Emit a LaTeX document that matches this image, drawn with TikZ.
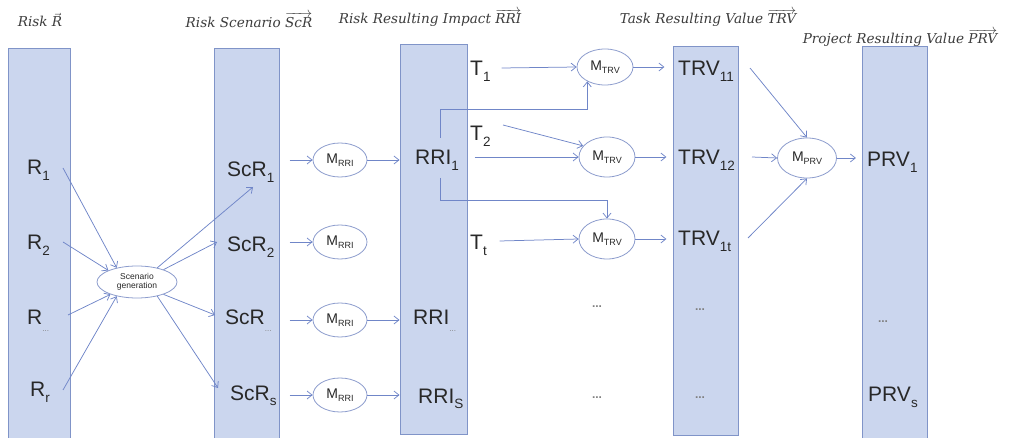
\documentclass[tikz,border=0pt]{standalone}
\usepackage{fontspec}
\setmainfont{Liberation Sans}
\newfontfamily\ttlfont{DejaVu Serif}
\usetikzlibrary{arrows.meta,shapes.geometric,calc}
\definecolor{barfill}{RGB}{203,214,238}
\definecolor{barline}{RGB}{128,148,200}
\definecolor{arrc}{RGB}{112,134,200}
\definecolor{ellline}{RGB}{140,156,205}
\definecolor{txt}{RGB}{40,40,40}
\definecolor{ttl}{RGB}{60,60,60}
\newcommand\sbs[1]{\raisebox{-0.28em}{\fontsize{13.5}{13.5}\selectfont #1}}
\newcommand\msb[1]{\raisebox{-0.22em}{\fontsize{9}{9}\selectfont #1}}
\newcommand\dts{\textcolor{gray}{\fontsize{12}{12}\selectfont\textbf{...}}}
\newcommand\sdts{\raisebox{-0.3em}{\textcolor{gray}{\fontsize{8}{8}\selectfont ...}}}
\begin{document}
\begin{tikzpicture}[x=1pt,y=-1pt,
  bar/.style={rectangle,draw=barline,fill=barfill,line width=0.9pt,inner sep=0pt},
  lbl/.style={anchor=base west,inner sep=0pt,text=txt,font=\fontsize{21}{21}\selectfont},
  dotnode/.style={inner sep=0pt},
  mell/.style={ellipse,draw=ellline,fill=white,line width=0.8pt,inner sep=0pt,text=txt,font=\fontsize{14}{14}\selectfont},
  ttlnode/.style={inner sep=0pt,text=ttl,font=\ttlfont\itshape\fontsize{13.6}{13.6}\selectfont},
  arr/.style={draw=arrc,line width=0.75pt,-{Straight Barb[length=5pt,width=8pt]}}]
\useasboundingbox (0,0) rectangle (1010,438);
% bars
\node[bar,minimum width=62pt,minimum height=392pt] (barR) at (39,244) {};
\node[bar,minimum width=65pt,minimum height=392pt] (barS) at (246.5,244) {};
\node[bar,minimum width=67pt,minimum height=390pt] (barI) at (433.5,239) {};
\node[bar,minimum width=65pt,minimum height=389pt] (barT) at (705.5,240.5) {};
\node[bar,minimum width=65pt,minimum height=394pt] (barP) at (894.5,243) {};
% titles
\node[ttlnode] (t1) at (40,20) {Risk $\vec{\textit{R}}$};
\node[ttlnode] (t2) at (249,20) {Risk Scenario $\overrightarrow{\textit{ScR}}$};
\node[ttlnode] (t3) at (430,18) {Risk Resulting Impact $\overrightarrow{\textit{RRI}}$};
\node[ttlnode] (t4) at (708,18) {Task Resulting Value $\overrightarrow{\textit{TRV}}$};
\node[ttlnode] (t5) at (900,38) {Project Resulting Value $\overrightarrow{\textit{PRV}}$};
% R column
\node[lbl] (r1) at (27,175) {R\sbs{1}};
\node[lbl] (r2) at (27,250) {R\sbs{2}};
\node[lbl] (rd) at (27,325) {R\sdts};
\node[lbl] (rr) at (30,397) {R\sbs{r}};
% scenario generation
\node[ellipse,draw=ellline,fill=white,line width=0.8pt,inner sep=0pt,minimum width=80pt,minimum height=32pt,align=center,text=txt,font=\fontsize{8.5}{9.5}\selectfont] (sg) at (137,282) {Scenario\\generation};
% ScR column
\node[lbl] (s1) at (227,177) {ScR\sbs{1}};
\node[lbl] (s2) at (227,252) {ScR\sbs{2}};
\node[lbl] (sd) at (225,325) {ScR\sdts};
\node[lbl] (ss) at (230,400) {ScR\sbs{s}};
% M_RRI
\node[mell,minimum width=54pt,minimum height=34pt] (m1) at (340,160) {M\msb{RRI}};
\node[mell,minimum width=54pt,minimum height=34pt] (m2) at (340,242) {M\msb{RRI}};
\node[mell,minimum width=54pt,minimum height=34pt] (m3) at (340,320) {M\msb{RRI}};
\node[mell,minimum width=54pt,minimum height=34pt] (m4) at (340,395) {M\msb{RRI}};
% RRI column
\node[lbl] (i1) at (415,165) {RRI\sbs{1}};
\node[lbl] (id) at (413,325) {RRI\sdts};
\node[lbl] (is) at (418,403) {RRI\sbs{S}};
% T labels
\node[lbl] (ta) at (470,76) {T\sbs{1}};
\node[lbl] (tb) at (470,141) {T\sbs{2}};
\node[lbl] (tt) at (470,250) {T\sbs{t}};
% M_TRV
\node[mell,minimum width=56pt,minimum height=36pt] (n1) at (605,67) {M\msb{TRV}};
\node[mell,minimum width=56pt,minimum height=40pt] (n2) at (607,157) {M\msb{TRV}};
\node[mell,minimum width=56pt,minimum height=40pt] (n3) at (607,239) {M\msb{TRV}};
\node[dotnode] (da) at (597,307) {\dts};
\node[dotnode] (db) at (597,398) {\dts};
% TRV column
\node[lbl] (v1) at (678,76) {TRV\sbs{11}};
\node[lbl] (v2) at (678,165) {TRV\sbs{12}};
\node[lbl] (v3) at (678,246) {TRV\sbs{1t}};
\node[dotnode] (vd1) at (700,310) {\dts};
\node[dotnode] (vd2) at (700,398) {\dts};
% M_PRV
\node[mell,minimum width=59pt,minimum height=40pt] (p) at (807,158) {M\msb{PRV}};
% PRV column
\node[lbl] (q1) at (867,167) {PRV\sbs{1}};
\node[dotnode] (qd) at (883,322) {\dts};
\node[lbl] (qs) at (868,402) {PRV\sbs{s}};
% arrows R -> scenario generation
\draw[arr] ($(r1.base west)+(36,-7)$) -- (sg.145);
\draw[arr] ($(r2.base west)+(36,-8)$) -- (sg.158);
\draw[arr] ($(rd.base west)+(41,-10)$) -- (sg.205);
\draw[arr] ($(rr.base west)+(33,-7)$) -- (sg.215);
% scenario generation -> ScR
\draw[arr] (sg.35) -- ($(s1.base west)+(26,10)$);
\draw[arr] (sg.25) -- ($(s2.base west)+(-10,-10)$);
\draw[arr] (sg.-25) -- ($(sd.base west)+(-10,-10)$);
\draw[arr] (sg.-35) -- ($(ss.base west)+(-12,-12)$);
% ScR -> M_RRI
\foreach \m in {m1,m2,m3,m4} \draw[arr] ($(\m.west)+(-23,0)$) -- (\m.west);
% M_RRI -> RRI
\draw[arr] (m1.east) -- (m1.east -| barI.west);
\draw[arr] (m3.east) -- (m3.east -| barI.west);
\draw[arr] (m4.east) -- (m4.east -| barI.west);
% to M_TRV
\draw[arr] ($(n1.west)+(-75,1)$) -- (n1.west);
\draw[arr] ($(i1.base west)+(25,-27)$) -- ++(0,-29) -| (n1.219);
\draw[arr] ($(tb.base west)+(33,-16)$) -- (n2.155);
\draw[arr] ($(n2.west)+(-104,0)$) -- (n2.west);
\draw[arr] ($(i1.base west)+(25,13)$) -- ++(0,22) -| (n3.north);
\draw[arr] ($(n3.west)+(-79,2)$) -- (n3.west);
% M_TRV -> TRV
\foreach \n in {n1,n2,n3} \draw[arr] (\n.east) -- ($(\n.east)+(31,0)$);
% TRV -> M_PRV
\draw[arr] ($(v1.base west)+(72,-8)$) -- (p.north);
\draw[arr] ($(v2.base west)+(74,-8)$) -- (p.west);
\draw[arr] ($(v3.base west)+(70,-8)$) -- (p.south);
\draw[arr] (p.east) -- ($(p.east)+(19,0)$);
\end{tikzpicture}
\end{document}
